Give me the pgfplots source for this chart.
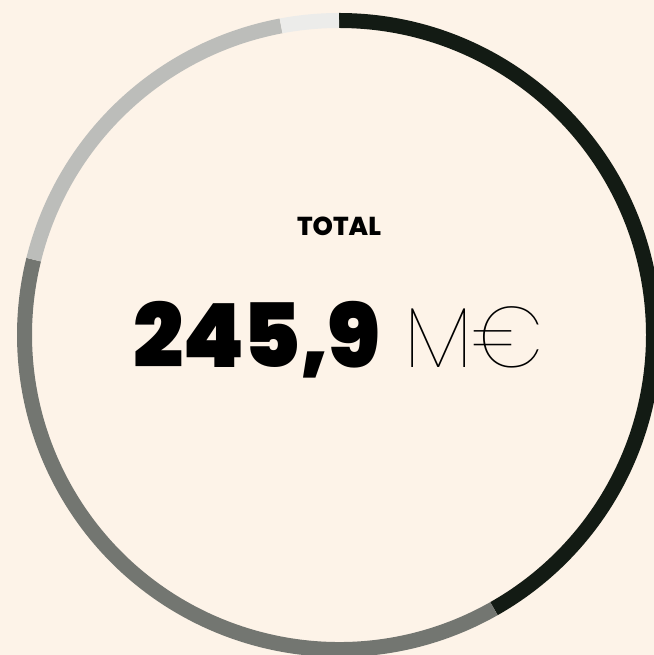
\documentclass[border=0pt]{standalone}
\usepackage{pgfplots}
\usepackage{pgfplotstable}
\pgfplotsset{compat=1.18}
\usepackage{fontspec}
\setmainfont{Poppins}
\newfontfamily\popblack{Poppins Black}[LetterSpace=-2]
\newfontfamily\popbold{Poppins ExtraBold}
\newfontfamily\popthin{Poppins Thin}

\definecolor{bgcol}{HTML}{FDF3E8}
\definecolor{segA}{HTML}{131B14}
\definecolor{segB}{HTML}{737671}
\definecolor{segC}{HTML}{BCBDBA}
\definecolor{segD}{HTML}{ECECEA}

% share of the ring in percent, clockwise from 12 o'clock
\pgfplotstableread{
share col
41.8  segA
37.05 segB
18.2  segC
2.95  segD
}\ringdata

\begin{document}
\begin{tikzpicture}
\begin{axis}[
    scale only axis,
    width=654bp, height=655bp,
    xmin=0, xmax=654, ymin=0, ymax=655,
    hide axis,
    clip=true,
]
\fill[bgcol] (axis cs:0,0) rectangle (axis cs:654,655);
\def\angstart{90}
\pgfplotsforeachungrouped \i in {0,...,3} {
    \pgfplotstablegetelem{\i}{share}\of\ringdata \let\share\pgfplotsretval
    \pgfplotstablegetelem{\i}{col}\of\ringdata \let\col\pgfplotsretval
    \pgfmathsetmacro\angend{\angstart-3.6*\share}
    \edef\temp{\noexpand\draw[line width=15bp, color=\col]
        (axis cs:339,320) ++(\angstart:314.5bp)
        arc[start angle=\angstart, end angle=\angend, radius=314.5bp];}
    \temp
    \let\angstart\angend
}
\node[anchor=base, font=\popbold\fontsize{26}{26}\selectfont] at (axis cs:339,419) {TOTAL};
\node[anchor=base east, inner sep=0pt, font=\popblack\fontsize{89}{89}\selectfont] at (axis cs:381,287) {245,9};
\node[anchor=base west, inner sep=0pt, font=\popthin\fontsize{86}{86}\selectfont] at (axis cs:404,287) {M€};
\end{axis}
\pgfresetboundingbox
\path[use as bounding box] (current axis.south west) rectangle (current axis.north east);
\end{tikzpicture}
\end{document}
